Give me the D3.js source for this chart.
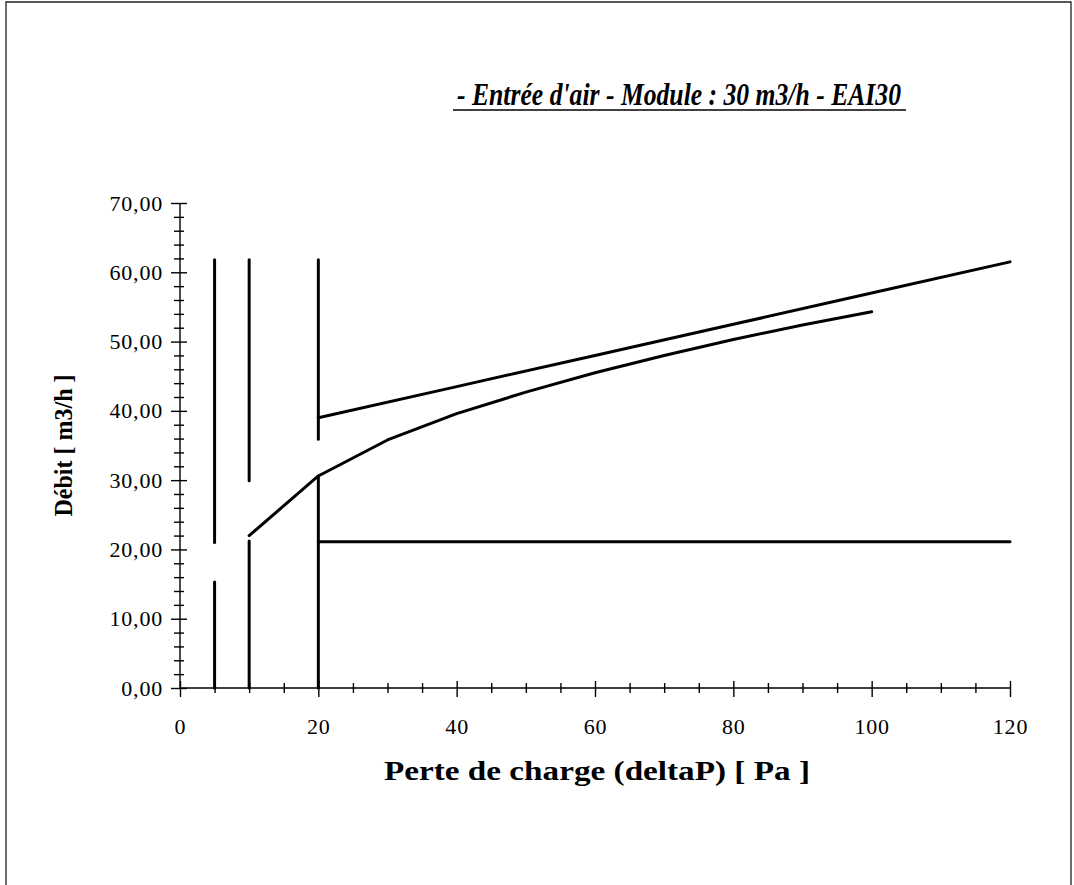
<!DOCTYPE html>
<html>
<head>
<meta charset="utf-8">
<script src="https://cdn.jsdelivr.net/npm/d3@7"></script>
<style>
  body { margin: 0; background: #fff; }
  svg { display: block; }
  .axis path, .axis line { stroke: #000; stroke-width: 1.4px; }
  .axis text { font-family: "Liberation Serif", "Times New Roman", serif; font-size: 22px; letter-spacing: 0.8px; fill: #000; }
</style>
</head>
<body>
<div id="chart"></div>
<script>
// tick values
const xTicks = [0, 20, 40, 60, 80, 100, 120];
const xMinor = [5, 10, 15, 25, 30, 35, 45, 50, 55, 65, 70, 75, 85, 90, 95, 105, 110, 115];
const yTicks = [0, 10, 20, 30, 40, 50, 60, 70];
const yMinor = [2, 4, 6, 8, 12, 14, 16, 18, 22, 24, 26, 28, 32, 34, 36, 38, 42, 44, 46, 48, 52, 54, 56, 58, 62, 64, 66, 68];

// upper straight-ish line
const upperX = [20, 40, 60, 80, 100, 120];
const upperY = [39, 43.5, 48, 52.5, 57, 61.5];

// middle curve
const curveX = [10, 20, 30, 40, 50, 60, 70, 80, 90, 100];
const curveY = [22, 30.6, 35.8, 39.6, 42.7, 45.5, 48, 50.3, 52.4, 54.3];

// flat line
const flatX = [20, 120];
const flatY = [21.1, 21.1];

// vertical markers, each split in two pieces
const vertX = [5, 10, 20];
const vertTop = [61.8, 61.8, 61.8];
const vertGapHi = [21, 29.9, 35.9];
const vertGapLo = [15.3, 21.2, 30.6];
const vertBottom = [0, 0, 0];

const width = 1074, height = 885;
const x = d3.scaleLinear().domain([0, 120]).range([180, 1010]);
const y = d3.scaleLinear().domain([0, 70]).range([688, 203]);

const svg = d3.select("#chart").append("svg")
    .attr("width", width)
    .attr("height", height);

// page frame
svg.append("path")
    .attr("d", "M6,890 L6,2 L1071,2 L1071,890")
    .attr("fill", "none")
    .attr("stroke", "#222")
    .attr("stroke-width", 1.3);

// title
svg.append("text")
    .attr("x", 679)
    .attr("y", 105)
    .attr("text-anchor", "middle")
    .style("font-family", "'Liberation Serif', 'Times New Roman', serif")
    .style("font-style", "italic")
    .style("font-weight", "bold")
    .style("font-size", "31px")
    .attr("textLength", 444)
    .attr("lengthAdjust", "spacingAndGlyphs")
    .text("- Entrée d'air - Module : 30 m3/h - EAI30");

svg.append("line")
    .attr("x1", 453).attr("x2", 906)
    .attr("y1", 110).attr("y2", 110)
    .attr("stroke", "#000")
    .attr("stroke-width", 1.6);

const fmt = d => d3.format(".2f")(d).replace(".", ",");

// y axis: major ticks cross the line on both sides
svg.append("g")
    .attr("class", "axis y")
    .attr("transform", `translate(${x(0)},0)`)
    .call(d3.axisLeft(y).tickValues(yTicks).tickSize(9).tickPadding(8).tickFormat(fmt))
    .call(g => g.select(".domain").attr("d", `M0,${y(0)}V${y(70)}`));

svg.append("g")
    .attr("class", "axis")
    .attr("transform", `translate(${x(0)},0)`)
    .call(d3.axisRight(y).tickValues(yTicks).tickSize(7).tickFormat(""))
    .call(g => g.select(".domain").remove());

svg.append("g")
    .attr("class", "axis")
    .attr("transform", `translate(${x(0)},0)`)
    .call(d3.axisLeft(y).tickValues(yMinor).tickSize(6).tickFormat(""))
    .call(g => g.select(".domain").remove());

svg.append("g")
    .attr("class", "axis")
    .attr("transform", `translate(${x(0)},0)`)
    .call(d3.axisRight(y).tickValues(yMinor).tickSize(4).tickFormat(""))
    .call(g => g.select(".domain").remove());

// x axis
svg.append("g")
    .attr("class", "axis x")
    .attr("transform", `translate(0,${y(0)})`)
    .call(d3.axisBottom(x).tickValues(xTicks).tickSize(9).tickPadding(21).tickFormat(d3.format("d")))
    .call(g => g.select(".domain").attr("d", `M${x(0)},0H${x(120)}`));

svg.append("g")
    .attr("class", "axis")
    .attr("transform", `translate(0,${y(0)})`)
    .call(d3.axisTop(x).tickValues(xTicks).tickSize(7).tickFormat(""))
    .call(g => g.select(".domain").remove());

svg.append("g")
    .attr("class", "axis")
    .attr("transform", `translate(0,${y(0)})`)
    .call(d3.axisBottom(x).tickValues(xMinor).tickSize(5).tickFormat(""))
    .call(g => g.select(".domain").remove());

svg.append("g")
    .attr("class", "axis")
    .attr("transform", `translate(0,${y(0)})`)
    .call(d3.axisTop(x).tickValues(xMinor).tickSize(5).tickFormat(""))
    .call(g => g.select(".domain").remove());

// axis titles
svg.append("text")
    .attr("transform", `translate(72,${(y(0) + y(70)) / 2}) rotate(-90)`)
    .attr("text-anchor", "middle")
    .style("font-family", "'Liberation Serif', 'Times New Roman', serif")
    .style("font-weight", "bold")
    .style("font-size", "25px")
    .attr("textLength", 142)
    .attr("lengthAdjust", "spacingAndGlyphs")
    .text("Débit [ m3/h ]");

svg.append("text")
    .attr("x", 597)
    .attr("y", 780)
    .attr("text-anchor", "middle")
    .style("font-family", "'Liberation Serif', 'Times New Roman', serif")
    .style("font-weight", "bold")
    .style("font-size", "27px")
    .attr("textLength", 426)
    .attr("lengthAdjust", "spacingAndGlyphs")
    .text("Perte de charge (deltaP) [ Pa ]");

// data lines
const line = d3.line().x(d => x(d[0])).y(d => y(d[1]));
const lineStyle = sel => sel
    .attr("fill", "none")
    .attr("stroke", "#000")
    .attr("stroke-width", 3)
    .attr("stroke-linejoin", "round")
    .attr("stroke-linecap", "round");

const plot = svg.append("g");

vertX.forEach((vx, i) => {
    plot.append("path").attr("d", line([[vx, vertTop[i]], [vx, vertGapHi[i]]])).call(lineStyle);
    plot.append("path").attr("d", line([[vx, vertGapLo[i]], [vx, vertBottom[i]]])).call(lineStyle);
});

plot.append("path").attr("d", line(upperX.map((v, i) => [v, upperY[i]]))).call(lineStyle);
plot.append("path").attr("d", line(curveX.map((v, i) => [v, curveY[i]]))).call(lineStyle);
plot.append("path").attr("d", line(flatX.map((v, i) => [v, flatY[i]]))).call(lineStyle);
</script>
</body>
</html>
